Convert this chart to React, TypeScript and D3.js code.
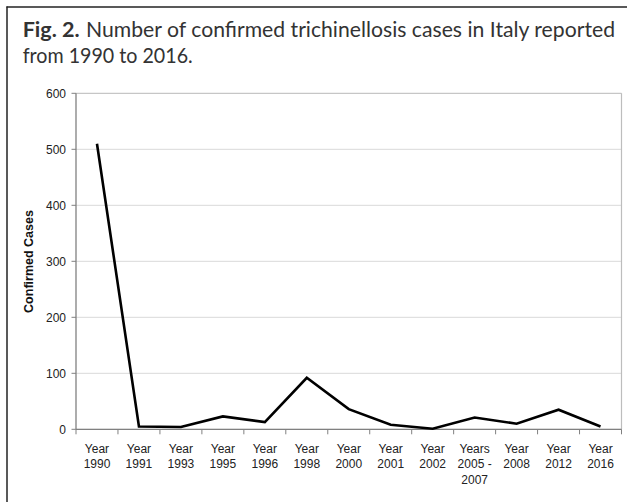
import React from "react";
import * as d3 from "d3";

const categories: string[][] = [
  ["Year", "1990"],
  ["Year", "1991"],
  ["Year", "1993"],
  ["Year", "1995"],
  ["Year", "1996"],
  ["Year", "1998"],
  ["Year", "2000"],
  ["Year", "2001"],
  ["Year", "2002"],
  ["Years", "2005 -", "2007"],
  ["Year", "2008"],
  ["Year", "2012"],
  ["Year", "2016"],
];
const cases: number[] = [510, 5, 4, 23, 13, 92, 36, 8, 1, 21, 10, 35, 5];
const yTicks: number[] = [0, 100, 200, 300, 400, 500, 600];

const W = 627;
const H = 502;
const left = 76;
const right = 621.5;
const top = 93.3;
const bottom = 429.3;

export default function App() {
  const keys = categories.map((c, i) => String(i));
  const x = d3.scaleBand<string>().domain(keys).range([left, right]).padding(0);
  const y = d3.scaleLinear().domain([0, 600]).range([bottom, top]);
  const line = d3
    .line<number>()
    .x((_, i) => (x(String(i)) as number) + x.bandwidth() / 2)
    .y((d) => y(d));
  const font = "'Liberation Sans', Arial, sans-serif";
  const tfont = "Lato, 'Open Sans', sans-serif";
  return (
    <svg
      width={W}
      height={H}
      style={{ position: "absolute", left: 0, top: 0, background: "#fff" }}
    >
      <rect x={0} y={0} width={W} height={H} fill="#fff" />
      {/* outer frame */}
      <line x1={6.5} y1={7} x2={W} y2={7} stroke="#222" strokeWidth={1.5} />
      <line x1={7} y1={6.5} x2={7} y2={H} stroke="#222" strokeWidth={1.5} />
      {/* title */}
      <text
        x={22.7}
        y={37.3}
        fontFamily={tfont}
        fontSize={20.5}
        fontWeight="bold"
        fill="#333"
        textLength={57}
        lengthAdjust="spacingAndGlyphs"
      >
        Fig. 2.
      </text>
      <text
        x={86}
        y={37.3}
        fontFamily={tfont}
        fontSize={20.5}
        fill="#333"
        textLength={529}
        lengthAdjust="spacingAndGlyphs"
      >
        Number of confirmed trichinellosis cases in Italy reported
      </text>
      <text
        x={22.7}
        y={63.3}
        fontFamily={tfont}
        fontSize={20.5}
        fill="#333"
        textLength={170}
        lengthAdjust="spacingAndGlyphs"
      >
        from 1990 to 2016.
      </text>
      {/* gridlines */}
      {yTicks.map((t) => (
        <line
          key={"g" + t}
          x1={left}
          x2={right}
          y1={y(t)}
          y2={y(t)}
          stroke={t === 600 ? "#b8b8b8" : "#d9d9d9"}
          strokeWidth={1}
        />
      ))}
      {/* plot right border */}
      <line x1={right} x2={right} y1={top} y2={bottom} stroke="#bdbdbd" strokeWidth={1.2} />
      {/* y axis */}
      <line x1={left} x2={left} y1={top} y2={bottom} stroke="#808080" strokeWidth={1.3} />
      {yTicks.map((t) => (
        <g key={"y" + t}>
          <line x1={left - 4.5} x2={left} y1={y(t)} y2={y(t)} stroke="#808080" strokeWidth={1} />
          <text
            x={66}
            y={y(t) + 4.2}
            textAnchor="end"
            fontFamily={font}
            fontSize={12}
            fill="#222"
          >
            {t}
          </text>
        </g>
      ))}
      {/* x axis */}
      <line x1={left} x2={right} y1={bottom} y2={bottom} stroke="#808080" strokeWidth={1.3} />
      {keys.map((k) => (
        <line
          key={"xt" + k}
          x1={x(k) as number}
          x2={x(k) as number}
          y1={bottom}
          y2={bottom + 5}
          stroke="#808080"
          strokeWidth={1}
        />
      ))}
      <line x1={right} x2={right} y1={bottom} y2={bottom + 5} stroke="#808080" strokeWidth={1} />
      {categories.map((lines, i) => (
        <text
          key={"xl" + i}
          x={(x(String(i)) as number) + x.bandwidth() / 2}
          y={452.7}
          textAnchor="middle"
          fontFamily={font}
          fontSize={12}
          fill="#222"
        >
          {lines.map((l, j) => (
            <tspan key={j} x={(x(String(i)) as number) + x.bandwidth() / 2} dy={j === 0 ? 0 : 15.7}>
              {l}
            </tspan>
          ))}
        </text>
      ))}
      {/* y label */}
      <text
        transform={`translate(32.5,261.5) rotate(-90)`}
        textAnchor="middle"
        fontFamily={font}
        fontSize={12.5}
        fontWeight="bold"
        fill="#111"
      >
        Confirmed Cases
      </text>
      {/* data line */}
      <path d={line(cases) as string} fill="none" stroke="#000" strokeWidth={2.6} strokeLinejoin="miter" />
    </svg>
  );
}
